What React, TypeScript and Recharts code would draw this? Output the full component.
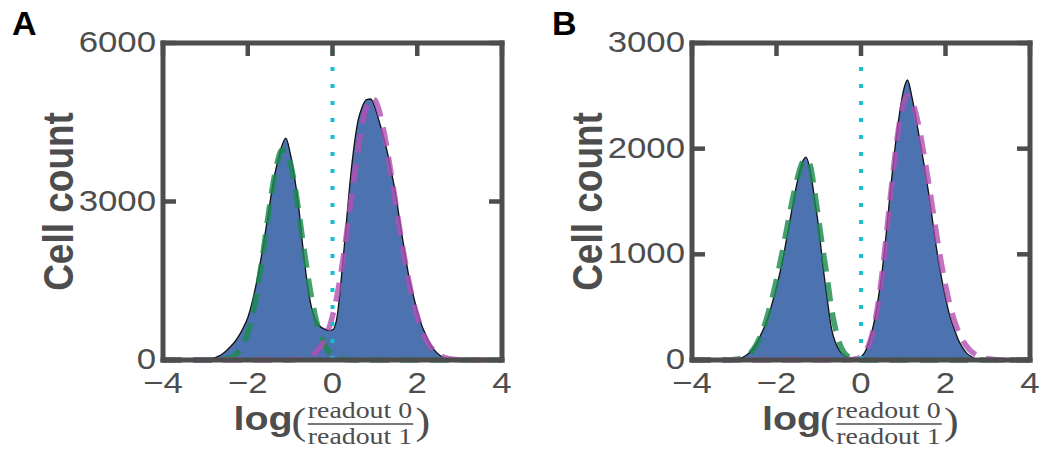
import { ComposedChart, Area, Line, XAxis, YAxis, ReferenceLine, Label } from 'recharts';

// bin centres, log(readout0/readout1), step 0.1
const xBins = [
  -4.0, -3.9, -3.8, -3.7, -3.6, -3.5, -3.4, -3.3, -3.2, -3.1,
  -3.0, -2.9, -2.8, -2.7, -2.6, -2.5, -2.4, -2.3, -2.2, -2.1,
  -2.0, -1.9, -1.8, -1.7, -1.6, -1.5, -1.4, -1.3, -1.2, -1.1,
  -1.0, -0.9, -0.8, -0.7, -0.6, -0.5, -0.4, -0.3, -0.2, -0.1,
  0.0, 0.1, 0.2, 0.3, 0.4, 0.5, 0.6, 0.7, 0.8, 0.9,
  1.0, 1.1, 1.2, 1.3, 1.4, 1.5, 1.6, 1.7, 1.8, 1.9,
  2.0, 2.1, 2.2, 2.3, 2.4, 2.5, 2.6, 2.7, 2.8, 2.9,
  3.0, 3.1, 3.2, 3.3, 3.4, 3.5, 3.6, 3.7, 3.8, 3.9, 4.0,
];

// panel A
const histA = [
  0, 0, 0, 0, 0, 0, 0, 0, 2, 4,
  8, 18, 38, 70, 115, 180, 260, 350, 470, 620,
  800, 1080, 1440, 1860, 2340, 2850, 3360, 3740, 4040, 4200,
  3920, 3480, 2910, 2140, 1480, 1010, 760, 640, 590, 560,
  570, 780, 1480, 2350, 3250, 3990, 4520, 4790, 4930, 4940,
  4790, 4520, 4240, 3910, 3520, 3100, 2560, 2070, 1590, 1250,
  930, 670, 480, 310, 190, 110, 55, 20, 5, 0,
  0, 0, 0, 0, 0, 0, 0, 0, 0, 0, 0,
];
const greenFitA = [
  0, 0, 0, 0, 0, 0, 0, 0, 0, 0,
  0, 0, 1, 4, 10, 22, 48, 94, 175, 310,
  515, 810, 1210, 1700, 2250, 2830, 3350, 3750, 3970, 3970,
  3750, 3350, 2830, 2250, 1700, 1210, 810, 515, 310, 175,
  94, 48, 22, 10, 4, 1, 0, 0, 0, 0,
  0, 0, 0, 0, 0, 0, 0, 0, 0, 0,
  0, 0, 0, 0, 0, 0, 0, 0, 0, 0,
  0, 0, 0, 0, 0, 0, 0, 0, 0, 0, 0,
];
const magentaFitA = [
  0, 0, 0, 0, 0, 0, 0, 0, 0, 0,
  0, 0, 0, 0, 0, 0, 0, 0, 0, 0,
  0, 0, 0, 0, 0, 0, 0, 0, 0, 0,
  2, 5, 12, 25, 45, 80, 140, 230, 370, 560,
  830, 1190, 1650, 2200, 2800, 3400, 3980, 4450, 4790, 4950,
  4920, 4720, 4380, 3940, 3440, 2920, 2410, 1930, 1500, 1130,
  830, 590, 400, 265, 170, 105, 62, 35, 19, 10,
  5, 2, 0, 0, 0, 0, 0, 0, 0, 0, 0,
];

// panel B
const histB = [
  0, 0, 0, 0, 0, 0, 0, 0, 0, 3,
  8, 14, 25, 50, 85, 140, 215, 300, 410, 540,
  690, 860, 1060, 1280, 1500, 1700, 1860, 1920, 1790, 1530,
  1250, 890, 580, 300, 160, 85, 45, 25, 15, 15,
  30, 80, 190, 340, 560, 840, 1210, 1620, 1990, 2300,
  2540, 2650, 2500, 2290, 2060, 1830, 1580, 1300, 1020, 790,
  590, 420, 300, 195, 120, 65, 35, 12, 3, 0,
  0, 0, 0, 0, 0, 0, 0, 0, 0, 0, 0,
];
const greenFitB = [
  0, 0, 0, 0, 0, 0, 0, 0, 0, 0,
  5, 10, 20, 40, 75, 130, 210, 310, 440, 590,
  760, 950, 1150, 1360, 1560, 1730, 1860, 1900, 1840, 1600,
  1320, 1040, 780, 490, 290, 150, 70, 30, 12, 4,
  0, 0, 0, 0, 0, 0, 0, 0, 0, 0,
  0, 0, 0, 0, 0, 0, 0, 0, 0, 0,
  0, 0, 0, 0, 0, 0, 0, 0, 0, 0,
  0, 0, 0, 0, 0, 0, 0, 0, 0, 0, 0,
];
const magentaFitB = [
  0, 0, 0, 0, 0, 0, 0, 0, 0, 0,
  0, 0, 0, 0, 0, 0, 0, 0, 0, 0,
  0, 0, 0, 0, 0, 0, 0, 0, 0, 0,
  0, 0, 0, 0, 0, 0, 0, 2, 5, 12,
  30, 75, 160, 300, 520, 820, 1180, 1560, 1920, 2220,
  2420, 2500, 2460, 2330, 2150, 1920, 1680, 1420, 1160, 920,
  710, 530, 385, 275, 190, 130, 85, 55, 35, 22,
  13, 7, 3, 1, 0, 0, 0, 0, 0, 0, 0,
];

const xTicks = [-4, -2, 0, 2, 4];
const yTicksA = [0, 3000, 6000];
const yTicksB = [0, 1000, 2000, 3000];

const AXIS = '#4d4d4d';
const SANS = '"Liberation Sans", Arial, Helvetica, sans-serif';
const SERIF = '"Liberation Serif", "DejaVu Serif", serif';
const STRETCH = 1.16;
const TICK_LEN = 13;

const fmtTick = (v: number) => (v < 0 ? `\u2212${Math.abs(v)}` : `${v}`);

function XTick(props: any) {
  const { x, y, payload } = props;
  return (
    <text
      transform={`translate(${x},${y + 30}) scale(${STRETCH},1)`}
      textAnchor="middle"
      fontSize={30}
      fontFamily={SANS}
      fill={AXIS}
    >
      {fmtTick(payload.value)}
    </text>
  );
}

function YTick(props: any) {
  const { x, y, payload } = props;
  return (
    <text
      transform={`translate(${x},${y + 9}) scale(${STRETCH},1)`}
      textAnchor="end"
      fontSize={30}
      fontFamily={SANS}
      fill={AXIS}
    >
      {payload.value}
    </text>
  );
}

// inward tick mark; anchor sits on the frame line (tickSize 0, tickMargin 0)
function InTick(props: any) {
  const { x, y, orientation } = props;
  if (orientation === 'top') return <line x1={x} x2={x} y1={y} y2={y + TICK_LEN} stroke={AXIS} strokeWidth={4.5} />;
  if (orientation === 'left') return <line x1={x} x2={x + TICK_LEN} y1={y} y2={y} stroke={AXIS} strokeWidth={4.5} />;
  return <line x1={x - TICK_LEN} x2={x} y1={y} y2={y} stroke={AXIS} strokeWidth={4.5} />;
}

function XLabel(props: any) {
  const { x, y, width } = props.viewBox;
  const cx = x + width / 2;
  return (
    <g transform={`translate(${cx - 99},${y + 70}) scale(${STRETCH},1)`} fill={AXIS}>
      <text x={0} y={0} fontSize={34} fontWeight="bold" fontFamily={SANS}>log</text>
      <text x={50} y={4} fontSize={38} fontFamily={SERIF}>(</text>
      <text x={109} y={-12} fontSize={24} fontFamily={SERIF} textAnchor="middle">readout 0</text>
      <line x1={64} x2={155} y1={-6} y2={-6} stroke={AXIS} strokeWidth={1.4} />
      <text x={109} y={14} fontSize={24} fontFamily={SERIF} textAnchor="middle">readout 1</text>
      <text x={157} y={4} fontSize={38} fontFamily={SERIF}>)</text>
    </g>
  );
}

function YLabel(props: any) {
  const { x, y, width, height } = props.viewBox;
  return (
    <text
      transform={`translate(${x + width - 105},${y + height / 2}) scale(${STRETCH},1) rotate(-90)`}
      textAnchor="middle"
      dominantBaseline="central"
      fontSize={37}
      fontWeight="bold"
      fontFamily={SANS}
      fill={AXIS}
    >
      Cell count
    </text>
  );
}

const frameLine = { stroke: AXIS, strokeWidth: 5, strokeLinecap: 'square' as const };

interface PanelProps {
  letter: string;
  letterX: number;
  left: number;
  width: number;
  plotLeft: number;
  marginRight: number;
  hist: number[];
  green: number[];
  magenta: number[];
  yMax: number;
  yTicks: number[];
}

function Panel({ letter, letterX, left, width, plotLeft, marginRight, hist, green, magenta, yMax, yTicks }: PanelProps) {
  const data = xBins.map((x, i) => ({ x, hist: hist[i], green: green[i], magenta: magenta[i] }));
  return (
    <div style={{ position: 'absolute', left, top: 0, width, height: 455 }}>
      <ComposedChart width={width} height={455} data={data} margin={{ top: 43, right: marginRight, bottom: 0, left: 0 }}>
        <XAxis
          dataKey="x"
          type="number"
          domain={[-4, 4]}
          ticks={xTicks}
          interval={0}
          allowDataOverflow
          height={95}
          tickSize={0}
          tickMargin={3}
          tickLine={false}
          axisLine={frameLine}
          tick={XTick}
        >
          <Label content={XLabel} />
        </XAxis>
        {/* top frame with inward ticks */}
        <XAxis
          xAxisId="top"
          orientation="top"
          mirror
          dataKey="x"
          type="number"
          domain={[-4, 4]}
          allowDataOverflow
          ticks={xTicks}
          interval={0}
          height={20}
          tickSize={0}
          tickMargin={0}
          tickLine={false}
          tick={InTick}
          axisLine={frameLine}
        />
        <YAxis
          type="number"
          domain={[0, yMax]}
          ticks={yTicks}
          interval={0}
          width={plotLeft}
          tickSize={0}
          tickMargin={7}
          tickLine={false}
          axisLine={frameLine}
          tick={YTick}
        >
          <Label content={YLabel} />
        </YAxis>
        {/* inward ticks on the left frame */}
        <YAxis
          yAxisId="leftTicks"
          orientation="left"
          mirror
          type="number"
          domain={[0, yMax]}
          allowDataOverflow
          ticks={yTicks}
          interval={0}
          width={20}
          tickSize={0}
          tickMargin={0}
          tickLine={false}
          tick={InTick}
          axisLine={false}
        />
        {/* right frame with inward ticks */}
        <YAxis
          yAxisId="right"
          orientation="right"
          mirror
          type="number"
          domain={[0, yMax]}
          allowDataOverflow
          ticks={yTicks}
          interval={0}
          width={20}
          tickSize={0}
          tickMargin={0}
          tickLine={false}
          tick={InTick}
          axisLine={frameLine}
        />
        <Area
          type="monotone"
          dataKey="hist"
          fill="#4c72b0"
          fillOpacity={1}
          stroke="#111111"
          strokeWidth={1.3}
          dot={false}
          activeDot={false}
          isAnimationActive={false}
        />
        <Line
          type="monotone"
          dataKey="green"
          stroke="#1c8a4f"
          strokeOpacity={0.82}
          strokeWidth={5.5}
          strokeDasharray="19 11"
          dot={false}
          activeDot={false}
          isAnimationActive={false}
        />
        <Line
          type="monotone"
          dataKey="magenta"
          stroke="#b24fb2"
          strokeOpacity={0.8}
          strokeWidth={5.5}
          strokeDasharray="19 11"
          dot={false}
          activeDot={false}
          isAnimationActive={false}
        />
        <ReferenceLine x={0} stroke="#17becf" strokeWidth={4} strokeDasharray="4 13" />
      </ComposedChart>
      <svg style={{ position: 'absolute', left: 0, top: 0 }} width={80} height={50}>
        <text x={letterX} y={35} fontSize={34} fontWeight="bold" fontFamily={SANS} fill="#000">
          {letter}
        </text>
      </svg>
    </div>
  );
}

export default function App() {
  return (
    <div style={{ position: 'absolute', left: 0, top: 0, width: 1041, height: 455, background: '#fff' }}>
      <Panel
        letter="A"
        letterX={12}
        left={0}
        width={520}
        plotLeft={163}
        marginRight={18}
        hist={histA}
        green={greenFitA}
        magenta={magentaFitA}
        yMax={6000}
        yTicks={yTicksA}
      />
      <Panel
        letter="B"
        letterX={32}
        left={520}
        width={521}
        plotLeft={172}
        marginRight={11}
        hist={histB}
        green={greenFitB}
        magenta={magentaFitB}
        yMax={3000}
        yTicks={yTicksB}
      />
    </div>
  );
}
